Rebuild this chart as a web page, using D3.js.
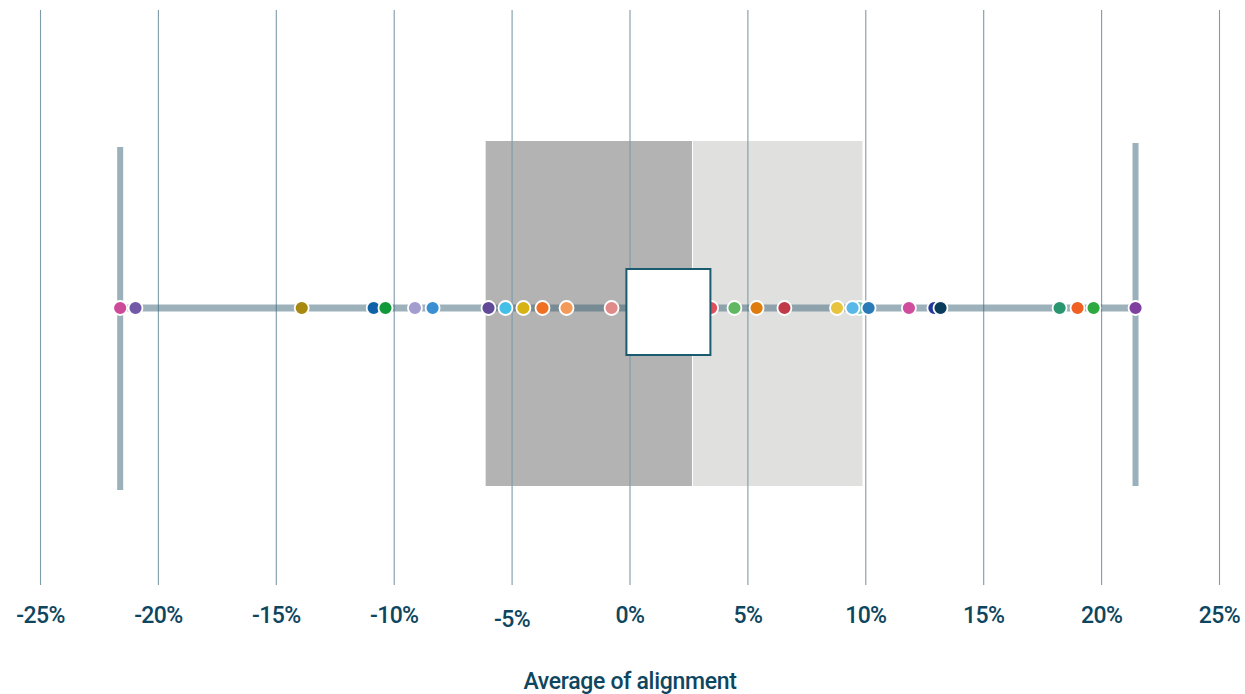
<!DOCTYPE html>
<html>
<head>
<meta charset="utf-8">
<script src="https://cdn.jsdelivr.net/npm/d3@7"></script>
<style>
  body { margin: 0; background: #fff; }
  text { font-family: Roboto, "Liberation Sans Narrow", sans-serif; }
</style>
</head>
<body>
<svg id="chart" width="1245" height="694"></svg>
<script>
// data (percent)
const tickValues = [-25, -20, -15, -10, -5, 0, 5, 10, 15, 20, 25];
const values = [
  -21.6, -20.95, -13.9, -10.85, -10.35, -9.1, -8.35, -5.98, -5.26, -4.5, -3.69, -2.67, -0.76,
  3.46, 4.45, 5.39, 6.57, 8.8, 9.75, 9.46, 10.14, 11.85, 12.93, 13.19, 18.24, 19.0, 19.68, 21.46
];
const colors = [
  '#cc4a98', '#7458a8', '#a8880f', '#0f62a8', '#0f993a', '#a29ccf', '#3a8fd2', '#614b98', '#43bfe8',
  '#d6b313', '#ef7022', '#f39a58', '#e08a8a', '#e0505a', '#62b862', '#de7d0e', '#c03a48', '#e8c43e',
  '#78c8b8', '#5ab8e8', '#2a7ab8', '#d04c9c', '#22389a', '#0a3c5c', '#2a9670', '#ef6022', '#30a840',
  '#8040a0'
];
const stats = { whiskerLow: -21.6, q1: -6.1, median: 2.65, q3: 9.88, whiskerHigh: 21.46, mean: 1.65 };

const svg = d3.select('#chart');
const cy = 308;
const x = d3.scaleLinear().domain([-25, 25]).range([40, 1219]);

// boxes
svg.append('rect')
  .attr('x', x(stats.q1)).attr('y', 141)
  .attr('width', x(stats.median) - x(stats.q1)).attr('height', 345)
  .attr('fill', '#b3b3b3');
svg.append('rect')
  .attr('x', x(stats.median) + 1).attr('y', 141)
  .attr('width', x(stats.q3) - x(stats.median) - 1).attr('height', 345)
  .attr('fill', '#e0e0df');

// gridlines
const grid = svg.append('g')
  .attr('transform', 'translate(0,585)')
  .call(d3.axisBottom(x).tickValues(tickValues).tickSize(-575).tickFormat(''));
grid.select('.domain').remove();
grid.selectAll('line').attr('stroke', '#7f9ba8').attr('stroke-width', 1.1);

// tick labels
const axis = svg.append('g')
  .attr('transform', 'translate(0,601)')
  .call(d3.axisBottom(x).tickValues(tickValues).tickSize(0).tickFormat((d) => d + '%'));
axis.select('.domain').remove();
axis.selectAll('text')
  .attr('font-size', 23)
  .attr('font-weight', 500)
  .attr('letter-spacing', -0.6)
  .attr('fill', '#0e4660')
  .attr('font-family', 'Roboto, sans-serif')
  .attr('dy', (d) => (d === -5 ? '0.98em' : '0.82em'));

// horizontal line
svg.append('line')
  .attr('x1', x(stats.whiskerLow)).attr('x2', x(stats.whiskerHigh))
  .attr('y1', cy).attr('y2', cy)
  .attr('stroke', 'rgb(60,100,120)').attr('stroke-opacity', 0.5)
  .attr('stroke-width', 7);

// whiskers
svg.append('line')
  .attr('x1', x(stats.whiskerLow)).attr('x2', x(stats.whiskerLow))
  .attr('y1', 147).attr('y2', 490)
  .attr('stroke', '#9ab0bb').attr('stroke-width', 6);
svg.append('line')
  .attr('x1', x(stats.whiskerHigh)).attr('x2', x(stats.whiskerHigh))
  .attr('y1', 143).attr('y2', 486)
  .attr('stroke', '#9ab0bb').attr('stroke-width', 6);

// dots
svg.append('g')
  .selectAll('circle')
  .data(values)
  .join('circle')
  .attr('cx', (d) => x(d))
  .attr('cy', cy)
  .attr('r', 7)
  .attr('fill', (d, i) => colors[i])
  .attr('stroke', '#fff')
  .attr('stroke-width', 1.8);

// mean marker
svg.append('rect')
  .attr('x', x(stats.mean) - 42).attr('y', 269)
  .attr('width', 84).attr('height', 86)
  .attr('fill', '#fff')
  .attr('stroke', '#1b5b70').attr('stroke-width', 2);

// axis title
svg.append('text')
  .attr('x', 630).attr('y', 689)
  .attr('text-anchor', 'middle')
  .attr('font-size', 23)
  .attr('font-weight', 500)
  .attr('letter-spacing', -0.3)
  .attr('fill', '#0e4660')
  .text('Average of alignment');
</script>
</body>
</html>
